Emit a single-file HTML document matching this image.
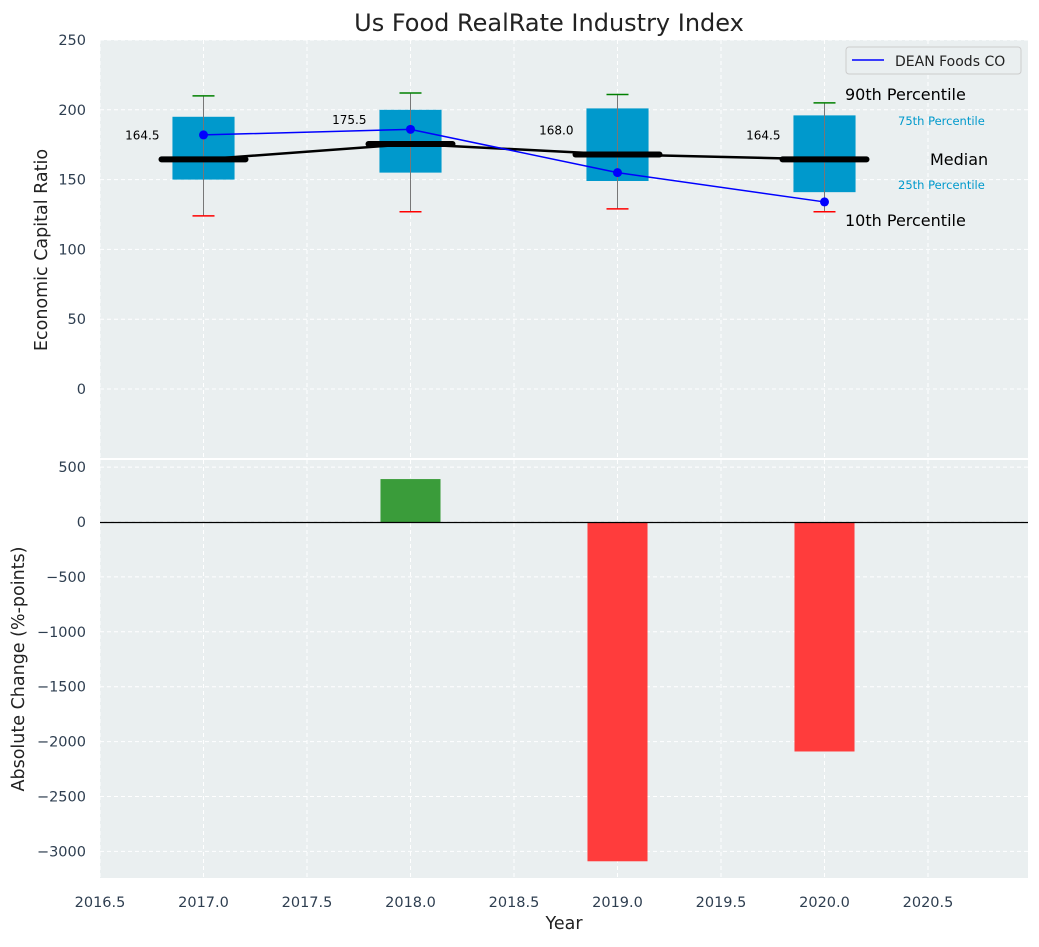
<!DOCTYPE html>
<html><head><meta charset="utf-8"><style>
body{margin:0;background:#fff;font-family:"Liberation Sans","DejaVu Sans",sans-serif}
svg text{font-family:"DejaVu Sans","Liberation Sans",sans-serif}
</style></head><body>
<svg id="c" width="1039" height="942" xmlns="http://www.w3.org/2000/svg"></svg>
<script>
const years=[2017,2018,2019,2020];
const q1=[150,155,149,141];
const q3=[195,200,201,196];
const medians=[164.5,175.5,168.0,164.5];
const p10=[124,127,129,127];
const p90=[210,212,211,205];
const dean=[182,186,155,134];
const changes=[0,391,-3090,-2090];
const xTicks=[2016.5,2017,2017.5,2018,2018.5,2019,2019.5,2020,2020.5];
const yTopTicks=[0,50,100,150,200,250];
const yBotTicks=[500,0,-500,-1000,-1500,-2000,-2500,-3000];

const NS="http://www.w3.org/2000/svg";
const svg=document.getElementById('c');
function el(t,a,p){const e=document.createElementNS(NS,t);for(const k in a)e.setAttribute(k,a[k]);(p||svg).appendChild(e);return e;}
const L=100,R=1028;
const X=v=>L+(v-2016.5)*207;
const T0=40,T1=458,Yt=v=>389-v*1.396;
const B0=460,B1=878,Yb=v=>522-v*0.1098;

let e=el('rect',{x:L,y:T0,width:R-L,height:T1-T0,fill:'#eaeff0'});

e=el('rect',{x:L,y:B0,width:R-L,height:B1-B0,fill:'#eaeff0'});


xTicks.forEach(v=>{
 el('line',{x1:X(v),x2:X(v),y1:T0,y2:T1,stroke:'#fff','stroke-dasharray':'4,3','stroke-width':1});
 el('line',{x1:X(v),x2:X(v),y1:B0,y2:B1,stroke:'#fff','stroke-dasharray':'4,3','stroke-width':1});
 const t=el('text',{x:X(v),y:907,'font-size':14.5,fill:'#2e3e50','text-anchor':'middle'});t.textContent=v.toFixed(1);
 
});
yTopTicks.forEach(v=>{
 el('line',{x1:L,x2:R,y1:Yt(v),y2:Yt(v),stroke:'#fff','stroke-dasharray':'4,3'});
 const t=el('text',{x:86,y:Yt(v)+5,'font-size':14.5,fill:'#2e3e50','text-anchor':'end'});t.textContent=v;
 
});
yBotTicks.forEach(v=>{
 el('line',{x1:L,x2:R,y1:Yb(v),y2:Yb(v),stroke:'#fff','stroke-dasharray':'4,3'});
 const t=el('text',{x:86,y:Yb(v)+5,'font-size':14.5,fill:'#2e3e50','text-anchor':'end'});t.textContent=v<0?'\u2212'+(-v):v;
 
});

years.forEach((y,i)=>{
 const cx=X(y),w=0.3*207;
 let r=el('rect',{x:cx-w/2,y:Yt(q3[i]),width:w,height:Yt(q1[i])-Yt(q3[i]),fill:'#0099cc'});
 
 el('line',{x1:cx,x2:cx,y1:Yt(p10[i]),y2:Yt(p90[i]),stroke:'#777','stroke-width':1});
 let c=el('line',{x1:cx-11,x2:cx+11,y1:Yt(p90[i]),y2:Yt(p90[i]),stroke:'green','stroke-width':1.5});
 
 c=el('line',{x1:cx-11,x2:cx+11,y1:Yt(p10[i]),y2:Yt(p10[i]),stroke:'red','stroke-width':1.5});
 
});
let pts=years.map((y,i)=>X(y)+','+Yt(medians[i])).join(' ');
e=el('polyline',{points:pts,fill:'none',stroke:'#000','stroke-width':2.5});

years.forEach((y,i)=>{
 const cx=X(y);
 let m=el('line',{x1:cx-42,x2:cx+42,y1:Yt(medians[i]),y2:Yt(medians[i]),stroke:'#000','stroke-width':6,'stroke-linecap':'round'});
 
 let t=el('text',{x:cx-44,y:Yt(medians[i])-20,'font-size':12,'text-anchor':'end'});t.textContent=medians[i].toFixed(1);
 
});
pts=years.map((y,i)=>X(y)+','+Yt(dean[i])).join(' ');
e=el('polyline',{points:pts,fill:'none',stroke:'blue','stroke-width':1.5});

years.forEach((y,i)=>{let d=el('circle',{cx:X(y),cy:Yt(dean[i]),r:4.5,fill:'blue'});
 });

[['90th Percentile',845,100,16,'#000'],['75th Percentile',898,125,11.5,'#0099cc'],['Median',930,165,16,'#000'],['25th Percentile',898,189,11.5,'#0099cc'],['10th Percentile',845,226,16,'#000']].forEach(a=>{
 const t=el('text',{x:a[1],y:a[2],'font-size':a[3],fill:a[4]});t.textContent=a[0];
 
});

const g=el('g',{});
el('rect',{x:846,y:47,width:175,height:27,fill:'#eaeff0',stroke:'#ccc',rx:3},g);
el('line',{x1:852,x2:884,y1:60,y2:60,stroke:'blue','stroke-width':1.5},g);
let lt=el('text',{x:895,y:66,'font-size':14,fill:'#222'},g);lt.textContent='DEAN Foods CO';

years.forEach((y,i)=>{
 const v=changes[i];if(v===0)return;
 const w=0.29*207;
 let b=el('rect',{x:X(y)-w/2,y:Math.min(Yb(0),Yb(v)),width:w,height:Math.abs(Yb(v)-Yb(0)),fill:v>0?'#3a9c3a':'#ff3c3c'});
 
});
e=el('line',{x1:L,x2:R,y1:Math.round(Yb(0))+0.5,y2:Math.round(Yb(0))+0.5,stroke:'#000','stroke-width':1.2});


let t=el('text',{x:549,y:31,'font-size':24,fill:'#222','text-anchor':'middle'});t.textContent='Us Food RealRate Industry Index';

t=el('text',{x:564,y:929,'font-size':17.5,fill:'#222','text-anchor':'middle'});t.textContent='Year';

t=el('text',{x:0,y:0,'font-size':17.5,fill:'#222','text-anchor':'middle',transform:'translate(47,250) rotate(-90)'});t.textContent='Economic Capital Ratio';

t=el('text',{x:0,y:0,'font-size':17.5,fill:'#222','text-anchor':'middle',transform:'translate(24,669) rotate(-90)'});t.textContent='Absolute Change (%-points)';

</script>
</body></html>
